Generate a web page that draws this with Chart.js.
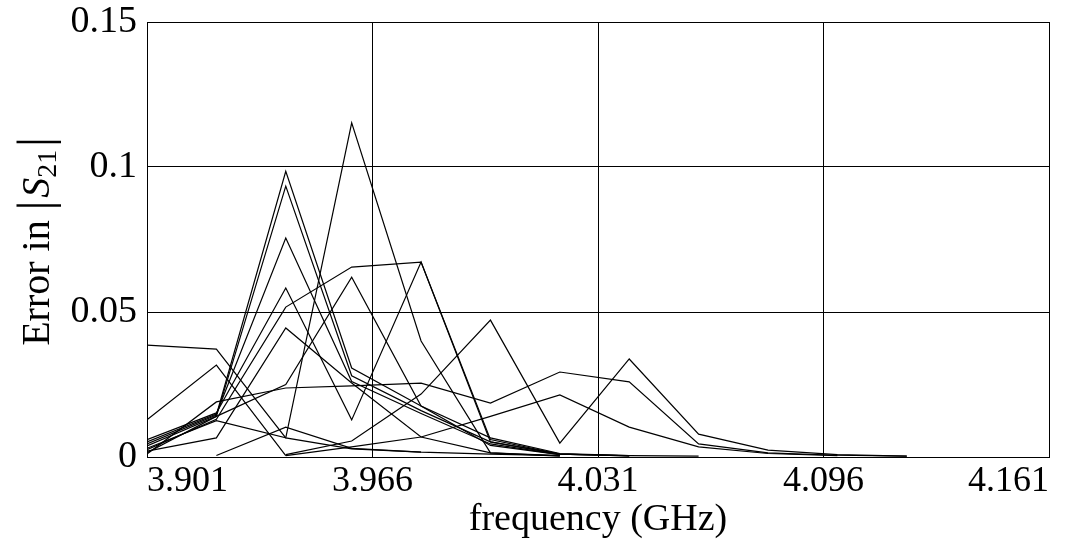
<!DOCTYPE html>
<html>
<head>
<meta charset="utf-8">
<script src="https://cdn.jsdelivr.net/npm/chart.js@4.4.1/dist/chart.umd.min.js"></script>
<style>
  html, body { margin: 0; padding: 0; background: #fff; }
  #box { width: 1068px; height: 543px; }
</style>
</head>
<body>
<div id="box"><canvas id="errChart"></canvas></div>
<script>
// frequency points (GHz)
var freq = [3.901, 3.921, 3.941, 3.960, 3.980, 4.000, 4.020, 4.040, 4.060, 4.080, 4.100, 4.120];

// error curves, one per run (null = no point)
var run01 = [0.0386, 0.0372, 0.0066, 0.0028, 0.0017];
var run02 = [0.0128, 0.0317, 0.0005];
var run03 = [0.0045, 0.0145, 0.0985, 0.0307, 0.0176, 0.0066, 0.0012, 0.0005, 0.0003];
var run04 = [0.0038, 0.0140, 0.0934, 0.0280, 0.0160, 0.0052, 0.0010, 0.0004];
var run05 = [0.0052, 0.0148, 0.0755, 0.0260, 0.0150, 0.0045, 0.0008];
var run06 = [0.0060, 0.0152, 0.0583, 0.0128, 0.0672, 0.0060, 0.0010, 0.0004];
var run07 = [0.0020, 0.0066, 0.0445, 0.0255, 0.0069, 0.0014, 0.0003];
var run08 = [0.0025, 0.0130, 0.0517, 0.0655, 0.0672, 0.0052, 0.0010, 0.0005];
var run09 = [0.0030, 0.0125, 0.0066, 0.1152, 0.0400, 0.0014, 0.0005];
var run10 = [0.0015, 0.0140, 0.0250, 0.0620, 0.0176, 0.0040, 0.0008];
var run11 = [0.0010, 0.0190, 0.0238, 0.0245, 0.0255, 0.0186, 0.0293, 0.0259, 0.0045, 0.0014, 0.0006, 0.0003];
var run12 = [null, null, 0.0008, 0.0055, 0.0217, 0.0472, 0.0048, 0.0338, 0.0079, 0.0024, 0.0008, 0.0003];
var run13 = [null, null, 0.0005, 0.0035, 0.0069, 0.0140, 0.0214, 0.0103, 0.0035, 0.0012, 0.0005];
var run14 = [null, 0.0005, 0.0103, 0.0030, 0.0017, 0.0010, 0.0005];

var runs = [run01, run02, run03, run04, run05, run06, run07, run08, run09, run10, run11, run12, run13, run14];

// axis ticks
var xTicks = [3.901, 3.966, 4.031, 4.096, 4.161];
var yTicks = [0, 0.05, 0.1, 0.15];
var yLabels = ['0', '0.05', '0.1', '0.15'];

var serif = "'Liberation Serif', 'DejaVu Serif', serif";
var fsize = 38;
var tsize = 40;

function toPoints(vals) {
  var pts = [];
  for (var i = 0; i < vals.length; i++) {
    if (vals[i] !== null) pts.push({x: freq[i], y: vals[i]});
  }
  return pts;
}

var sets = [];
for (var i = 0; i < runs.length; i++) {
  sets.push({
    data: toPoints(runs[i]),
    borderColor: '#000',
    borderWidth: 1.2,
    pointRadius: 0,
    fill: false,
    tension: 0
  });
}

// y title with italic S and subscript, drawn rotated
var yTitle = {
  id: 'yTitle',
  afterDraw: function (c) {
    var g = c.ctx;
    var a = c.chartArea;
    var parts = [
      {t: 'Error in ', f: tsize + 'px ' + serif, dy: 0},
      {t: '|', f: (tsize + 8) + 'px ' + serif, dy: 2},
      {t: 'S', f: 'italic ' + tsize + 'px ' + serif, dy: 0},
      {t: '21', f: Math.round(tsize * 0.7) + 'px ' + serif, dy: 7},
      {t: '|', f: (tsize + 8) + 'px ' + serif, dy: 2}
    ];
    g.save();
    var total = 0;
    parts.forEach(function (p) { g.font = p.f; p.w = g.measureText(p.t).width; total += p.w; });
    total += 6;
    g.translate(49, (a.top + a.bottom) / 2 + 2);
    g.rotate(-Math.PI / 2);
    g.fillStyle = '#000';
    g.textBaseline = 'alphabetic';
    var x = -total / 2;
    parts.forEach(function (p, k) {
      g.font = p.f;
      g.fillText(p.t, x, p.dy);
      x += p.w + (k === 1 ? 3 : 0) + (k === 3 ? 3 : 0);
    });
    g.restore();
  }
};

var ctx = document.getElementById('errChart');
var chart = new Chart(ctx, {
  type: 'line',
  data: { datasets: sets },
  plugins: [yTitle],
  options: {
    responsive: true,
    maintainAspectRatio: false,
    animation: false,
    events: [],
    layout: { padding: { left: 0, right: 19, top: 22, bottom: 0 } },
    plugins: { legend: { display: false }, tooltip: { enabled: false } },
    scales: {
      x: {
        type: 'linear',
        min: 3.901,
        max: 4.161,
        afterBuildTicks: function (scale) {
          scale.ticks = xTicks.map(function (v) { return {value: v}; });
        },
        afterFit: function (scale) {
          scale.height = 86;
          scale.paddingLeft = 0;
          scale.paddingRight = 0;
        },
        grid: { color: '#000', lineWidth: 1, drawTicks: false },
        border: { color: '#000', width: 1 },
        ticks: {
          align: 'inner',
          padding: 3,
          maxRotation: 0,
          color: '#000',
          font: { family: serif, size: fsize - 2 },
          callback: function (v) { return v.toFixed(3); }
        },
        title: {
          display: true,
          text: 'frequency (GHz)',
          color: '#000',
          font: { family: serif, size: tsize - 2 },
          padding: { top: 0, bottom: 0 }
        }
      },
      y: {
        min: 0,
        max: 0.15,
        afterBuildTicks: function (scale) {
          scale.ticks = yTicks.map(function (v) { return {value: v}; });
        },
        afterFit: function (scale) {
          scale.width = 147;
          scale.paddingTop = 0;
          scale.paddingBottom = 0;
        },
        grid: { color: '#000', lineWidth: 1, drawTicks: false },
        border: { color: '#000', width: 1 },
        ticks: {
          padding: 10,
          color: '#000',
          font: { family: serif, size: fsize },
          callback: function (v) {
            var k = yTicks.indexOf(v);
            return k >= 0 ? yLabels[k] : '';
          }
        }
      }
    }
  }
});
</script>
</body>
</html>
